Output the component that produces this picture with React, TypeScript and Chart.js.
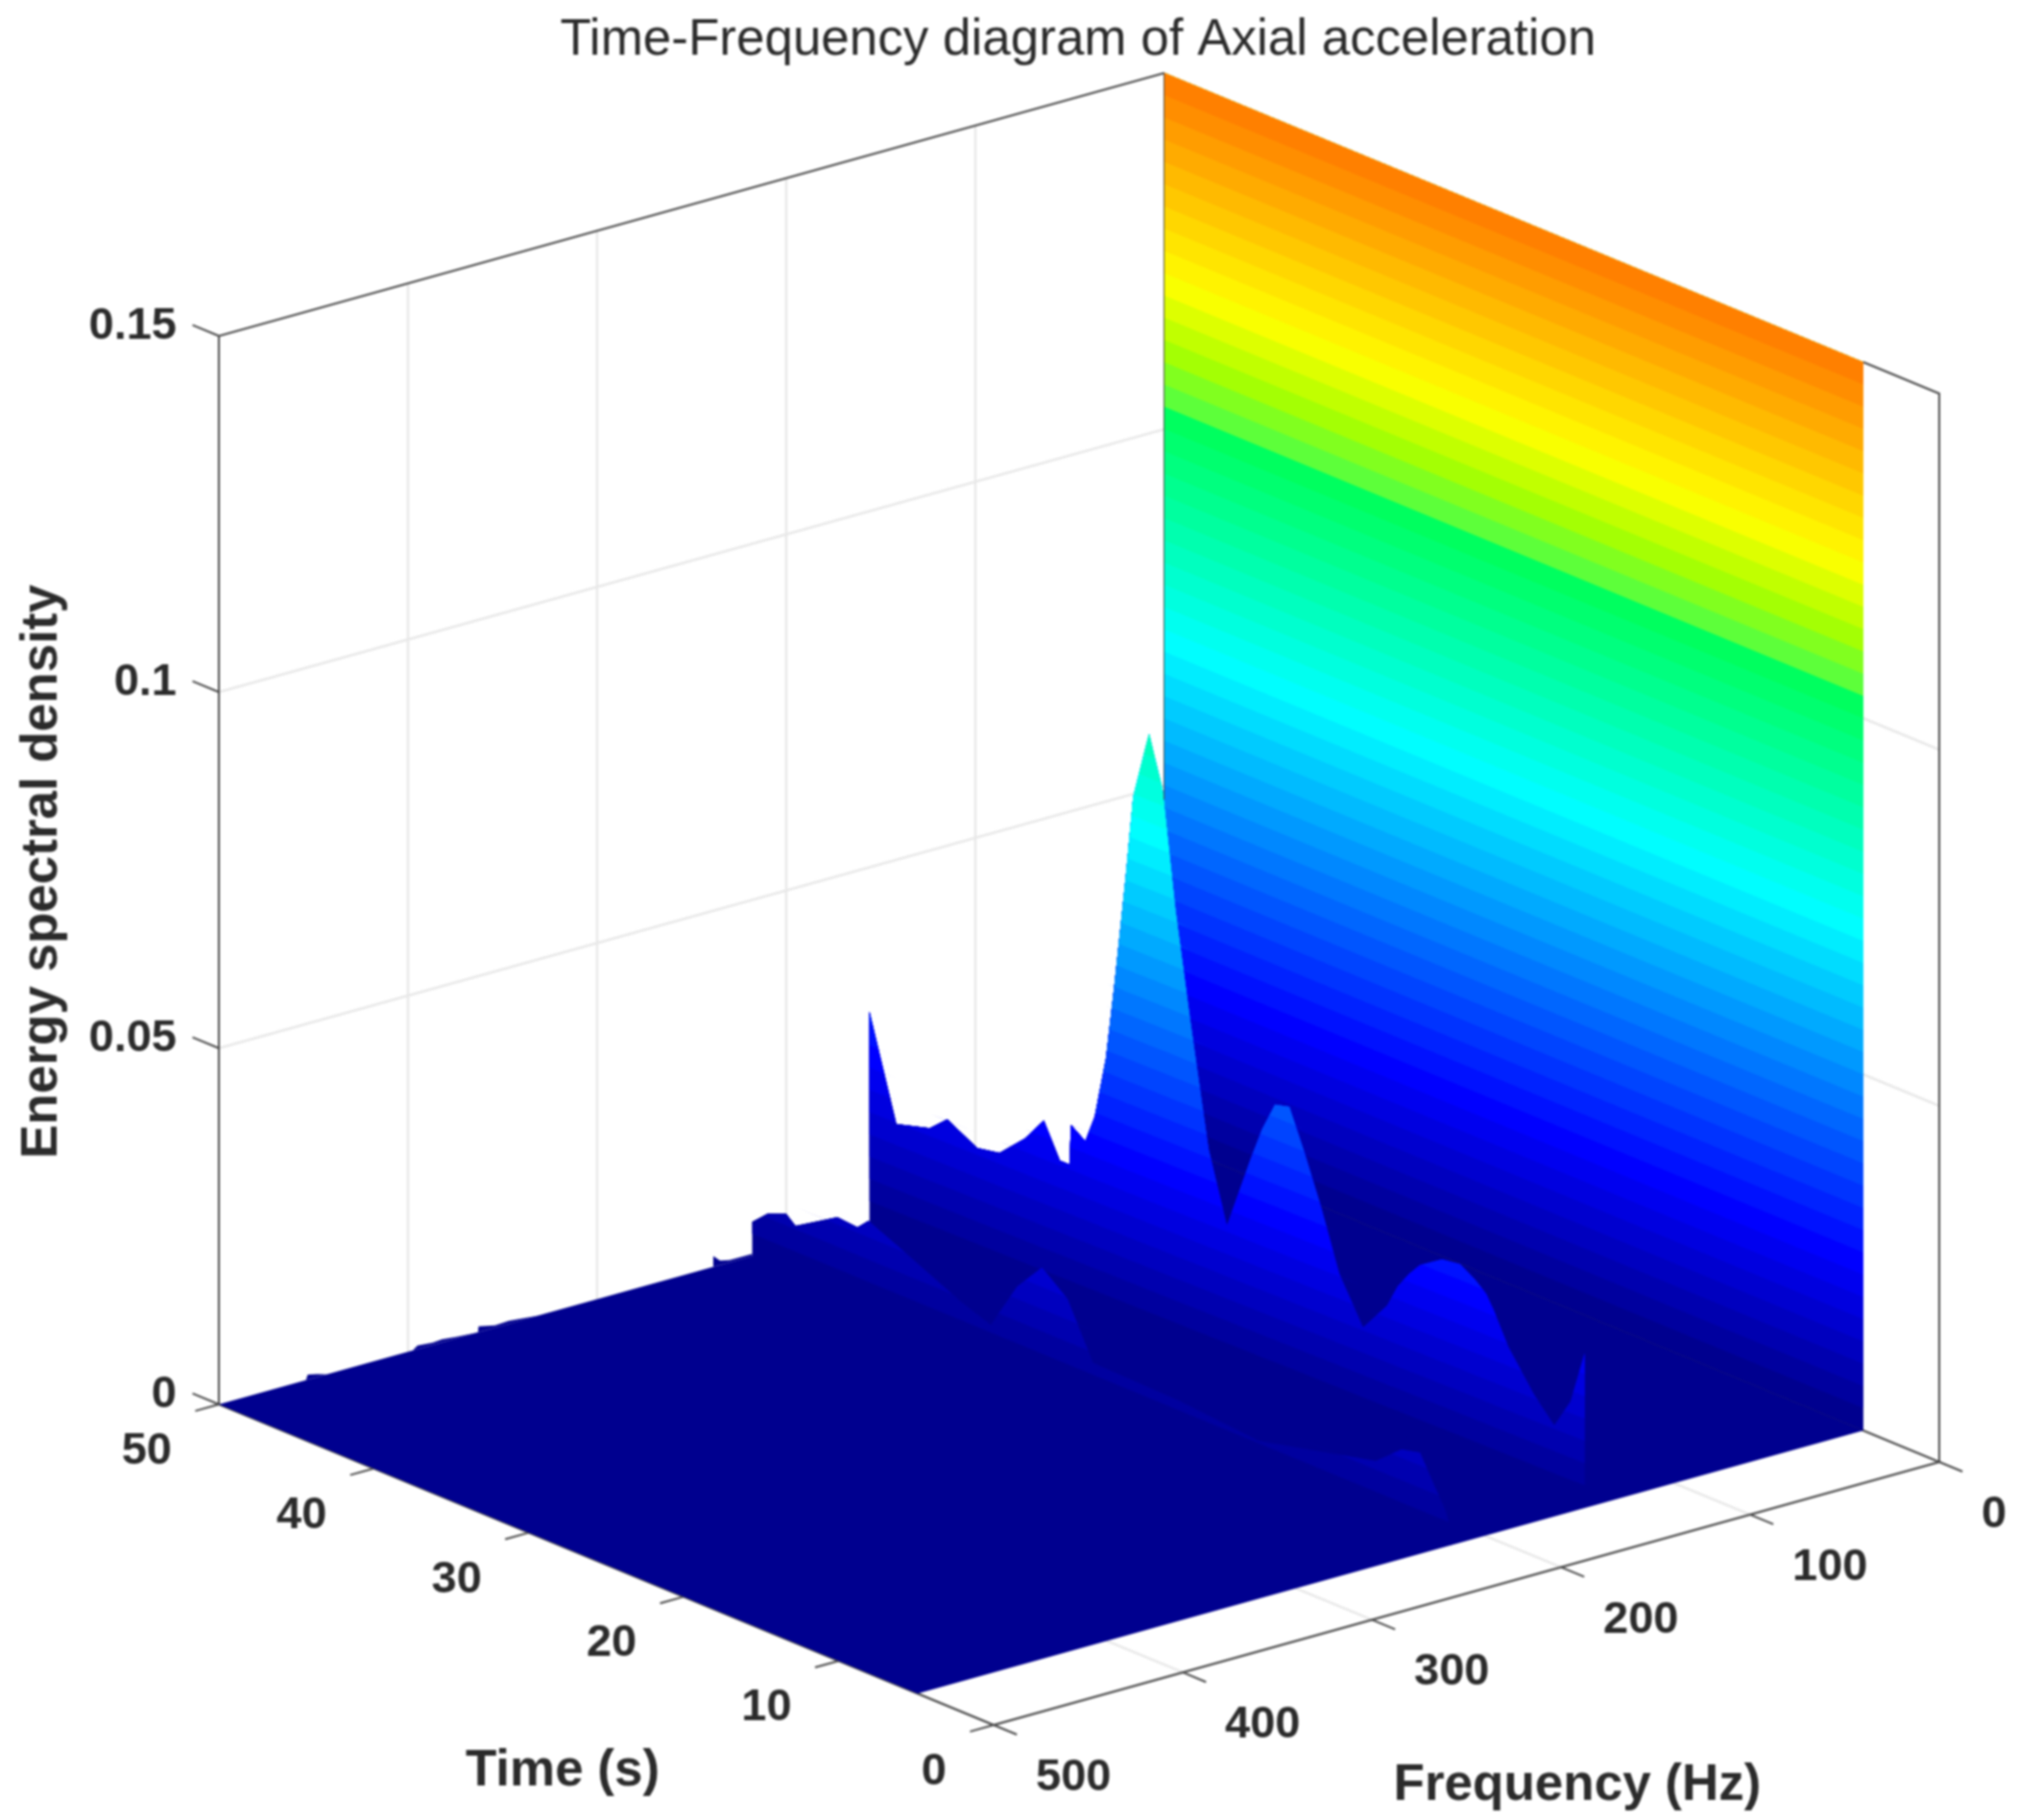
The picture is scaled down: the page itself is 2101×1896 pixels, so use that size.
import React, { useEffect, useRef } from 'react';
import { Chart, registerables } from 'chart.js';

Chart.register(...registerables);

const WIDTH = 2101;
const HEIGHT = 1896;

const esdTicks = [0, 0.05, 0.1, 0.15];
const esdTickLabels = ['0', '0.05', '0.1', '0.15'];
const timeTicks = [0, 10, 20, 30, 40, 50];
const freqTicks = [0, 100, 200, 300, 400, 500];

// surface limits
const surfaceTimeStart = 4.9;
const surfaceTimeEnd = 50;
const esdAxisMax = 0.15;
const colorScaleMax = 0.2;

// main ridge, the one that peaks near 32 s
const ridgeTimes = [50, 48.3, 46.2, 45.1, 43.2, 41.8, 40.2, 39, 38, 37.4, 37.3, 36.4, 35.8, 35.1, 34.56, 34.2, 33.83, 33.38, 33.04, 32.38, 31.99, 31.54, 30.71, 29.78, 28.64, 27.48, 25.97, 25.26, 24.45, 23.55, 22.6, 21.56, 20.4, 18.9, 17.38, 16.71, 15.99, 15.32, 13.93, 12.8, 11.85, 11.15, 10.66, 9.75, 8.12, 6.84, 5.81, 4.94];
const ridgeFreqs = [156, 155.7, 155.25, 155, 154.65, 154.4, 154.1, 153.9, 153.6, 153.5, 153.5, 153.3, 153.2, 153, 152.9, 152.8, 152.8, 152.7, 152.6, 152.5, 152.4, 152.3, 152.2, 152, 151.7, 151.5, 151.2, 151.1, 150.9, 150.7, 150.6, 150.3, 150.1, 149.8, 149.5, 149.4, 149.2, 149.1, 148.8, 148.5, 148.4, 148.2, 148.2, 148, 147.7, 147.5, 147.3, 147];
const ridgeESD = [0.0297, 0.01546, 0.01675, 0.01895, 0.0166, 0.01716, 0.0206, 0.0242, 0.01946, 0.01945, 0.0251, 0.0236, 0.0276, 0.0364, 0.0473, 0.0553, 0.0634, 0.0746, 0.078, 0.0843, 0.081, 0.0773, 0.061, 0.0463, 0.02935, 0.0196, 0.0304, 0.0351, 0.0393, 0.0398, 0.0343, 0.02755, 0.01914, 0.0129, 0.01736, 0.02066, 0.02305, 0.02485, 0.0269, 0.0272, 0.0259, 0.0245, 0.0226, 0.01833, 0.01303, 0.00985, 0.01414, 0.02164];

// smaller ridge at about 218 Hz
const sideFreq = 218;
const sideTimes = [50, 49, 47.8, 47.2, 44.5, 43.2, 42.5, 40.7, 36.6, 34.6, 32.9, 31.3, 29.65, 28, 22.5, 17.3, 9.76, 8.1, 6.9, 6, 5.24, 4.9];
const sideESD = [0.0048, 0.00685, 0.0079, 0.00675, 0.0104, 0.01016, 0.0117, 0.00995, 0.0058, 0.0042, 0.0111, 0.0152, 0.0123, 0.0048, 0.0045, 0.0035, 0.00745, 0.01057, 0.0112, 0.0075, 0.0045, 0.002];

// tiny bumps along the 50 s edge
const edgeFreqs = [500, 454, 453, 448, 443, 397.5, 395, 387, 382, 374.6, 363, 362.7, 354, 346.7, 331, 239, 238.6, 235, 230, 218];
const edgeESD = [0, 0, 0.0007, 0.0004, 0, 0, 0.0005, 0.0003, 0.0004, 0.0002, 0, 0.0008, 0.0003, 0.0004, 0, 0, 0.0015, 0.0006, 0.0003, 0.0003];

// colormap of the figure, close to jet but with a hard step just above green
const colorStops = [0.0156, 0.125, 0.36, 0.52, 0.53, 0.565, 0.6125, 0.75, 1];
const colorReds = [0, 0, 0, 0, 90, 170, 255, 255, 128];
const colorGreens = [0, 0, 255, 255, 255, 255, 255, 128, 0];
const colorBlues = [143, 255, 255, 90, 60, 0, 0, 0, 0];

type Pt = { x: number; y: number };

// fixed MATLAB style camera: frequency and time on the floor, ESD straight up
const project = (freq: number, time: number, esd: number): Pt => ({
  x: 1213 - 1.97 * freq + 16.14 * (50 - time),
  y: 1189 + 0.548 * freq + 6.68 * (50 - time) - (esd / esdAxisMax) * 1113,
});

const bandColor = (level: number) => {
  const v = (level + 1) / 64;
  let i = 0;
  while (i < colorStops.length - 2 && v > colorStops[i + 1]) i++;
  const r = Math.max(0, Math.min(1, (v - colorStops[i]) / (colorStops[i + 1] - colorStops[i])));
  const mix = (c: number[]) => Math.round(c[i] + (c[i + 1] - c[i]) * r);
  return `rgb(${mix(colorReds)},${mix(colorGreens)},${mix(colorBlues)})`;
};

const levelValue = (level: number) => (level / 64) * colorScaleMax;

const line = (data: Pt[], color: string, width: number) => ({
  data,
  showLine: true,
  fill: false,
  borderColor: color,
  borderWidth: width,
  pointRadius: 0,
});

const shape = (data: Pt[], color: string) => ({
  data,
  showLine: true,
  fill: 'shape',
  backgroundColor: color,
  borderColor: 'transparent',
  borderWidth: 0,
  pointRadius: 0,
});

// colour bands of a curtain, painted bottom up so no seams show between them
const curtainBands = (freqs: number[], times: number[], values: number[]) => {
  const out: any[] = [];
  const top = Math.max(...values);
  for (let k = 0; levelValue(k) < top; k++) {
    const a = levelValue(k);
    const upper: Pt[] = [];
    times.forEach((t, i) => {
      upper.push(project(freqs[i], t, Math.max(values[i], a)));
      // cut the edge where it passes through this band's lower level
      if (i < times.length - 1 && (values[i] - a) * (values[i + 1] - a) < 0) {
        const r = (a - values[i]) / (values[i + 1] - values[i]);
        upper.push(project(freqs[i] + (freqs[i + 1] - freqs[i]) * r, t + (times[i + 1] - t) * r, a));
      }
    });
    const lower = times.map((t, i) => project(freqs[i], t, a)).reverse();
    out.push(shape([...upper, ...lower], bandColor(k)));
  }
  return out;
};

const buildDatasets = () => {
  const gridColor = '#e8e8e8';
  const boxColor = '#484848';
  const sets: any[] = [];

  // back walls and floor grid
  freqTicks.slice(1, 5).forEach((f) => {
    sets.push(line([project(f, 50, 0), project(f, 50, esdAxisMax)], gridColor, 2.5));
    sets.push(line([project(f, 0, 0), project(f, 50, 0)], gridColor, 2.5));
  });
  timeTicks.slice(1, 5).forEach((t) => {
    sets.push(line([project(0, t, 0), project(0, t, esdAxisMax)], gridColor, 2.5));
  });
  esdTicks.slice(1, 3).forEach((z) => {
    sets.push(line([project(500, 50, z), project(0, 50, z), project(0, 0, z)], gridColor, 2.5));
  });

  // box outline, the stretch along the top of the wall is hidden by the surface
  sets.push(line([project(500, 50, 0), project(500, 50, esdAxisMax), project(0, 50, esdAxisMax)], boxColor, 2));
  sets.push(line([project(0, surfaceTimeStart, esdAxisMax), project(0, 0, esdAxisMax), project(0, 0, 0)], boxColor, 2));
  sets.push(line([project(0, 50, 0), project(0, 50, esdAxisMax)], boxColor, 2));
  sets.push(line([project(500, 50, 0), project(500, 0, 0), project(0, 0, 0), project(0, 50, 0)], boxColor, 2.2));

  // ticks
  esdTicks.forEach((z) => sets.push(line([project(500, 50, z), project(500, 51.7, z)], boxColor, 2)));
  timeTicks.forEach((t) => sets.push(line([project(500, t, 0), project(512.5, t, 0)], boxColor, 2)));
  freqTicks.forEach((f) => sets.push(line([project(f, 0, 0), project(f, -1.5, 0)], boxColor, 2)));

  // floor of the surface
  sets.push(shape([
    project(500, surfaceTimeEnd, 0),
    project(0, surfaceTimeEnd, 0),
    project(0, surfaceTimeStart, 0),
    project(500, surfaceTimeStart, 0),
  ], bandColor(0)));

  // 0 Hz wall, clipped at the top of the axis
  for (let k = 0; levelValue(k) < esdAxisMax; k++) {
    const a = levelValue(k);
    sets.push(shape([
      project(0, surfaceTimeEnd, a),
      project(0, surfaceTimeStart, a),
      project(0, surfaceTimeStart, esdAxisMax),
      project(0, surfaceTimeEnd, esdAxisMax),
    ], bandColor(k)));
  }

  sets.push(...curtainBands(edgeFreqs, edgeFreqs.map(() => 50), edgeESD));
  sets.push(...curtainBands(ridgeFreqs, ridgeTimes, ridgeESD));
  sets.push(...curtainBands(sideTimes.map(() => sideFreq), sideTimes, sideESD));

  // first dataset is drawn on top, so hand them over back to front
  return sets.reverse();
};

const axisText = {
  id: 'axisText',
  afterDraw(chart: any) {
    const { ctx } = chart;
    const px = (p: Pt) => ({ x: chart.scales.x.getPixelForValue(p.x), y: chart.scales.y.getPixelForValue(p.y) });
    const tickFont = 'bold 47px "Liberation Sans"';
    const titleFont = 'bold 53px "Liberation Sans"';
    const put = (text: string, x: number, y: number, align: CanvasTextAlign, font: string) => {
      ctx.font = font;
      ctx.textAlign = align;
      ctx.fillText(text, x, y);
    };
    ctx.save();
    ctx.fillStyle = '#2b2b2b';
    ctx.textBaseline = 'middle';

    esdTicks.forEach((z, i) => {
      const p = px(project(500, 50, z));
      put(esdTickLabels[i], p.x - 44, p.y - 10, 'right', tickFont);
    });
    timeTicks.forEach((t) => {
      const p = px(project(500, t, 0));
      put(String(t), p.x - 49, p.y + 49, 'right', tickFont);
    });
    freqTicks.forEach((f) => {
      const p = px(project(f, 0, 0));
      put(String(f), p.x + 44, p.y + 55, 'left', tickFont);
    });

    put('Time-Frequency diagram of Axial acceleration', 1123, 42, 'center', '53px "Liberation Sans"');
    put('Time (s)', 586, 1845, 'center', titleFont);
    put('Frequency (Hz)', 1643, 1860, 'center', titleFont);

    ctx.translate(44, 908);
    ctx.rotate(-Math.PI / 2);
    put('Energy spectral density', 0, 0, 'center', titleFont);
    ctx.restore();
  },
};

const App: React.FC = () => {
  const chartRef = useRef<HTMLCanvasElement>(null);

  useEffect(() => {
    if (!chartRef.current) return;
    const chart = new Chart(chartRef.current, {
      type: 'scatter',
      data: { datasets: buildDatasets() },
      plugins: [axisText],
      options: {
        animation: false,
        responsive: false,
        devicePixelRatio: 1,
        events: [],
        layout: { padding: 0 },
        plugins: { legend: { display: false }, tooltip: { enabled: false } },
        scales: {
          x: { type: 'linear', min: 0, max: WIDTH, display: false },
          y: { type: 'linear', min: 0, max: HEIGHT, reverse: true, display: false },
        },
      },
    } as any);
    return () => chart.destroy();
  }, []);

  return (
    <div style={{ position: 'absolute', left: 0, top: 0, width: WIDTH, height: HEIGHT, background: '#fff' }}>
      <canvas ref={chartRef} width={WIDTH} height={HEIGHT} style={{ filter: 'blur(1.2px)' }}></canvas>
    </div>
  );
};

export default App;
